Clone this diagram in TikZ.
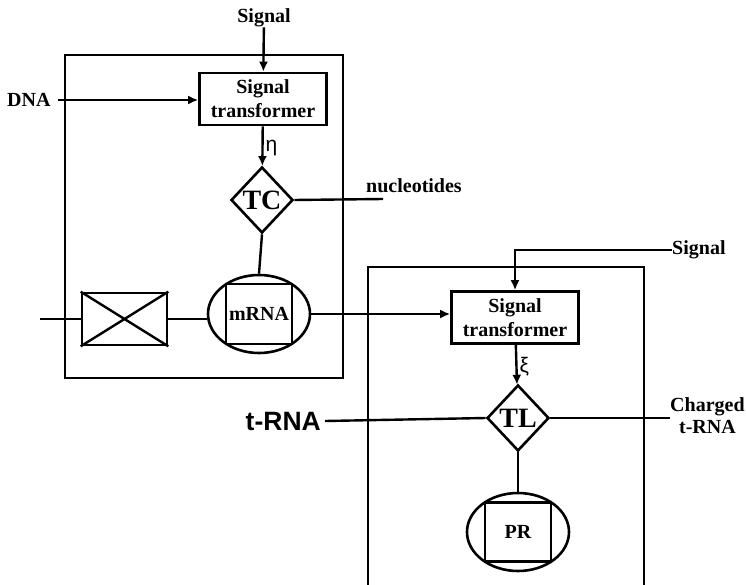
\documentclass[tikz,border=0pt]{standalone}
\usepackage{fontspec}
\setmainfont{Liberation Serif}
\newfontfamily\arialfont{Liberation Sans}
\usetikzlibrary{arrows.meta,shapes.geometric}

\tikzset{
  lbl/.style={font=\fontsize{20}{24}\selectfont\bfseries, inner sep=0pt},
  transbox/.style={draw, line width=2.6pt, minimum width=127pt, minimum height=52pt, align=center, inner sep=0pt, font=\fontsize{20}{24}\selectfont\bfseries},
  gate/.style={draw, diamond, line width=2.6pt, minimum width=62pt, minimum height=66pt, inner sep=0pt, font=\fontsize{28}{30}\selectfont\bfseries},
  pool/.style={draw, ellipse, line width=2.6pt, minimum width=102pt, minimum height=78pt, inner sep=0pt},
  poolbox/.style={draw, line width=2.6pt, minimum width=66pt, minimum height=60pt, inner sep=0pt, font=\fontsize{20}{24}\selectfont\bfseries},
  greek/.style={right=2pt, inner sep=0pt, font=\fontsize{21}{24}\selectfont\arialfont},
  wire/.style={line width=2.4pt},
  feed/.style={line width=2.4pt, -{Latex[length=10pt,width=9pt]}}
}

\begin{document}
\begin{tikzpicture}[x=1pt,y=-1pt]
  \useasboundingbox (0,0) rectangle (746,585);
  % compartment frames
  \draw[line width=2pt] (65,55) rectangle (343,378);
  \draw[line width=2pt] (368,585) -- (368,267) -- (644,267) -- (644,585);
  % transcription part
  \node[lbl] (sig_top) at (264,18) {Signal};
  \node[lbl, anchor=west] (dna) at (7,100) {DNA};
  \node[transbox] (trans_tc) at (263,99) {Signal\\transformer};
  \node[gate] (tc) at (262,200) {TC};
  \node[lbl, anchor=base west] (nucl) at (366,193) {nucleotides};
  \coordinate (nucl_end) at (383,199);
  \node[pool] (mrna) at (259,314) {};
  \node[poolbox] (mrna_box) at (259,314) {mRNA};
  \node[draw, line width=2.6pt, minimum width=85pt, minimum height=52pt, inner sep=0pt] (deg) at (124.5,319) {};
  \draw[wire] (deg.north west) -- (deg.south east);
  \draw[wire] (deg.south west) -- (deg.north east);
  \coordinate (deg_in) at (40,319);
  \draw[feed] (sig_top) -- (trans_tc);
  \draw[feed] ([xshift=7pt]dna.east) -- (trans_tc.west |- dna.east);
  \draw[feed] (trans_tc) -- node[greek, yshift=-2pt] {η} (tc);
  \draw[wire] (tc.east) -- (nucl_end);
  \draw[wire] (tc.south) -- (mrna.north);
  \draw[wire] (deg_in) -- (deg.west);
  \draw[wire] (deg.east) -- (deg.east -| mrna.west);
  % translation part
  \node[transbox] (trans_tl) at (515,317.5) {Signal\\transformer};
  \node[lbl, anchor=west] (sig_right) at (672,250) {Signal};
  \node[gate] (tl) at (518,418) {TL};
  \node[inner sep=0pt, font=\fontsize{26.5}{28}\selectfont\arialfont\bfseries, anchor=east] (trna) at (321,421) {t-RNA};
  \node[lbl, align=center, anchor=west, font=\fontsize{20}{22}\selectfont\bfseries] (charged) at (670,416) {Charged\\t-RNA};
  \node[pool] (pr) at (518,532) {};
  \node[poolbox, minimum height=59pt] (pr_box) at (518,532) {PR};
  \draw[feed] (mrna.east) -- (mrna.east -| trans_tl.west);
  \draw[feed] (sig_right.west) -| (trans_tl.north);
  \draw[feed] (trans_tl) -- node[greek, yshift=-2pt] {ξ} (tl);
  \draw[wire] ([xshift=4pt]trna.east) -- (tl.west);
  \draw[wire] (tl.east) -- (tl.east -| charged.west);
  \draw[wire] (tl.south) -- (pr.north);
\end{tikzpicture}
\end{document}
